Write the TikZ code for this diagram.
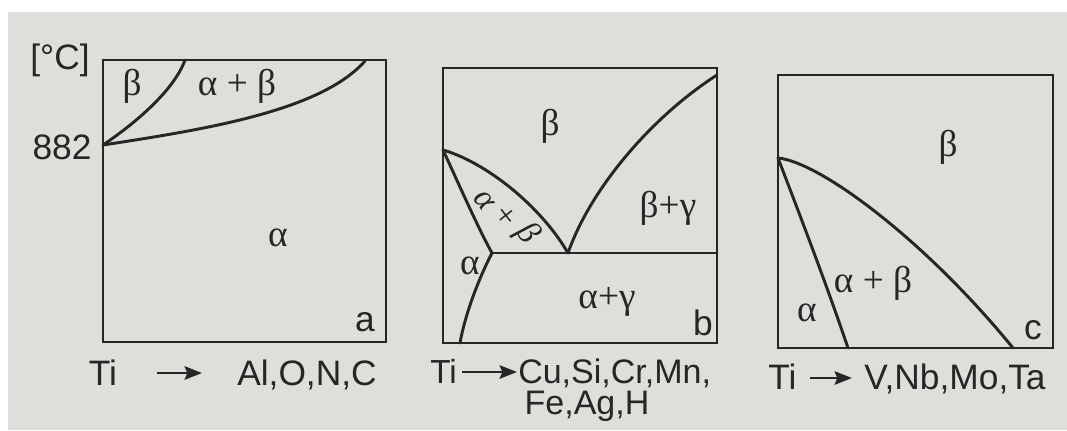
\documentclass[tikz,border=0pt]{standalone}
\usepackage{fontspec}
\setmainfont{Liberation Sans}
\newfontfamily\grk{Liberation Serif}
\usetikzlibrary{arrows.meta}
\definecolor{paper}{RGB}{222,222,218}
\definecolor{ink}{RGB}{38,38,38}
\begin{document}
\begin{tikzpicture}[x=0.75pt,y=-0.75pt,
  frame/.style={draw=ink,line width=1.5pt},
  phase/.style={draw=ink,line width=2.2pt,line cap=round},
  txt/.style={text=ink,font=\fontsize{26.5}{30}\selectfont,inner sep=0pt},
  gk/.style={text=ink,font=\fontsize{28}{30}\selectfont\grk,inner sep=0pt},
  gkit/.style={text=ink,font=\fontsize{25}{28}\selectfont\grk\itshape,inner sep=0pt,rotate=-52},
  arr/.style={draw=ink,line width=2.2pt,-{Stealth[length=13pt,width=10pt,inset=2pt]}}]
\useasboundingbox (0,0) rectangle (1067,430);
\fill[white] (0,0) rectangle (1067,430);
\fill[paper] (8,12) rectangle (1067,430);

% ---------- panel a ----------
\draw[frame] (103,60) rectangle (386,342);
\coordinate (a882) at (103,145);
\coordinate (aTop1) at (185,60);
\coordinate (aTop2) at (365,61);
\draw[phase] (a882) .. controls (140,120) and (175,88) .. (aTop1);
\draw[phase] (a882) .. controls (200,130) and (320,112) .. (aTop2);
\node[txt] (degC) at (60,60) {[°C]};
\node[txt] (t882) at (62,147) {882};
\node[gk] (aBeta) at (132,86) {β};
\node[gk] (aAB) at (237,86) {α + β};
\node[gk] (aAlpha) at (278,238) {α};
\node[txt] (aLab) at (365,322) {a};
\node[txt,anchor=base] (aTi) at (103,385) {Ti};
\coordinate (aA1) at (157,373);
\coordinate (aA2) at (202,373);
\draw[arr] (aA1) -- (aA2);
\node[txt,anchor=base west] (aEl) at (237,385) {Al,O,N,C};

% ---------- panel b ----------
\draw[frame] (443,68) rectangle (717,343);
\coordinate (bL) at (443,150);
\coordinate (bT) at (492,253);
\coordinate (bE) at (568,253);
\coordinate (bR) at (717,253);
\coordinate (bTR) at (717,75);
\coordinate (bB) at (460,343);
\draw[phase] (bL) .. controls (457,180) and (478,228) .. (bT);
\draw[phase] (bL) .. controls (485,162) and (540,205) .. (bE);
\draw[phase] (bT) -- (bR);
\draw[phase] (bE) .. controls (590,190) and (650,118) .. (bTR);
\draw[phase] (bT) .. controls (478,280) and (465,315) .. (bB);
\node[gk] (bBeta) at (550,126) {β};
\node[gkit] (bABa) at (484,201) {α};
\node[gkit] (bABp) at (505,217) {+};
\node[gkit] (bABb) at (527,234) {β};
\node[gk] (bBG) at (668,208) {β+γ};
\node[gk] (bAlpha) at (470,266) {α};
\node[gk] (bAG) at (607,302) {α+γ};
\node[txt] (bLab) at (703,323) {b};
\node[txt,anchor=base west,font=\fontsize{25}{28}\selectfont] (bTi) at (430,383) {Ti};
\coordinate (bA1) at (462,372);
\coordinate (bA2) at (517,372);
\draw[arr] (bA1) -- (bA2);
\node[txt,anchor=base west,font=\fontsize{25.5}{28}\selectfont] (bEl) at (518,383) {Cu,Si,Cr,Mn,};
\node[txt,anchor=base,font=\fontsize{25.5}{28}\selectfont] (bEl2) at (587,414) {Fe,Ag,H};

% ---------- panel c ----------
\draw[frame] (778,75) rectangle (1053,348);
\coordinate (cL) at (778,158);
\coordinate (cB1) at (848,348);
\coordinate (cB2) at (1013,348);
\draw[phase] (cL) .. controls (796,205) and (825,280) .. (cB1);
\draw[phase] (cL) .. controls (820,162) and (925,240) .. (cB2);
\node[gk] (cBeta) at (948,147) {β};
\node[gk] (cAB) at (873,283) {α + β};
\node[gk] (cAlpha) at (807,313) {α};
\node[txt] (cLab) at (1033,330) {c};
\node[txt,anchor=base west] (cTi) at (768,389) {Ti};
\coordinate (cA1) at (810,378);
\coordinate (cA2) at (852,378);
\draw[arr] (cA1) -- (cA2);
\node[txt,anchor=base west] (cEl) at (864,389) {V,Nb,Mo,Ta};
\end{tikzpicture}
\end{document}
